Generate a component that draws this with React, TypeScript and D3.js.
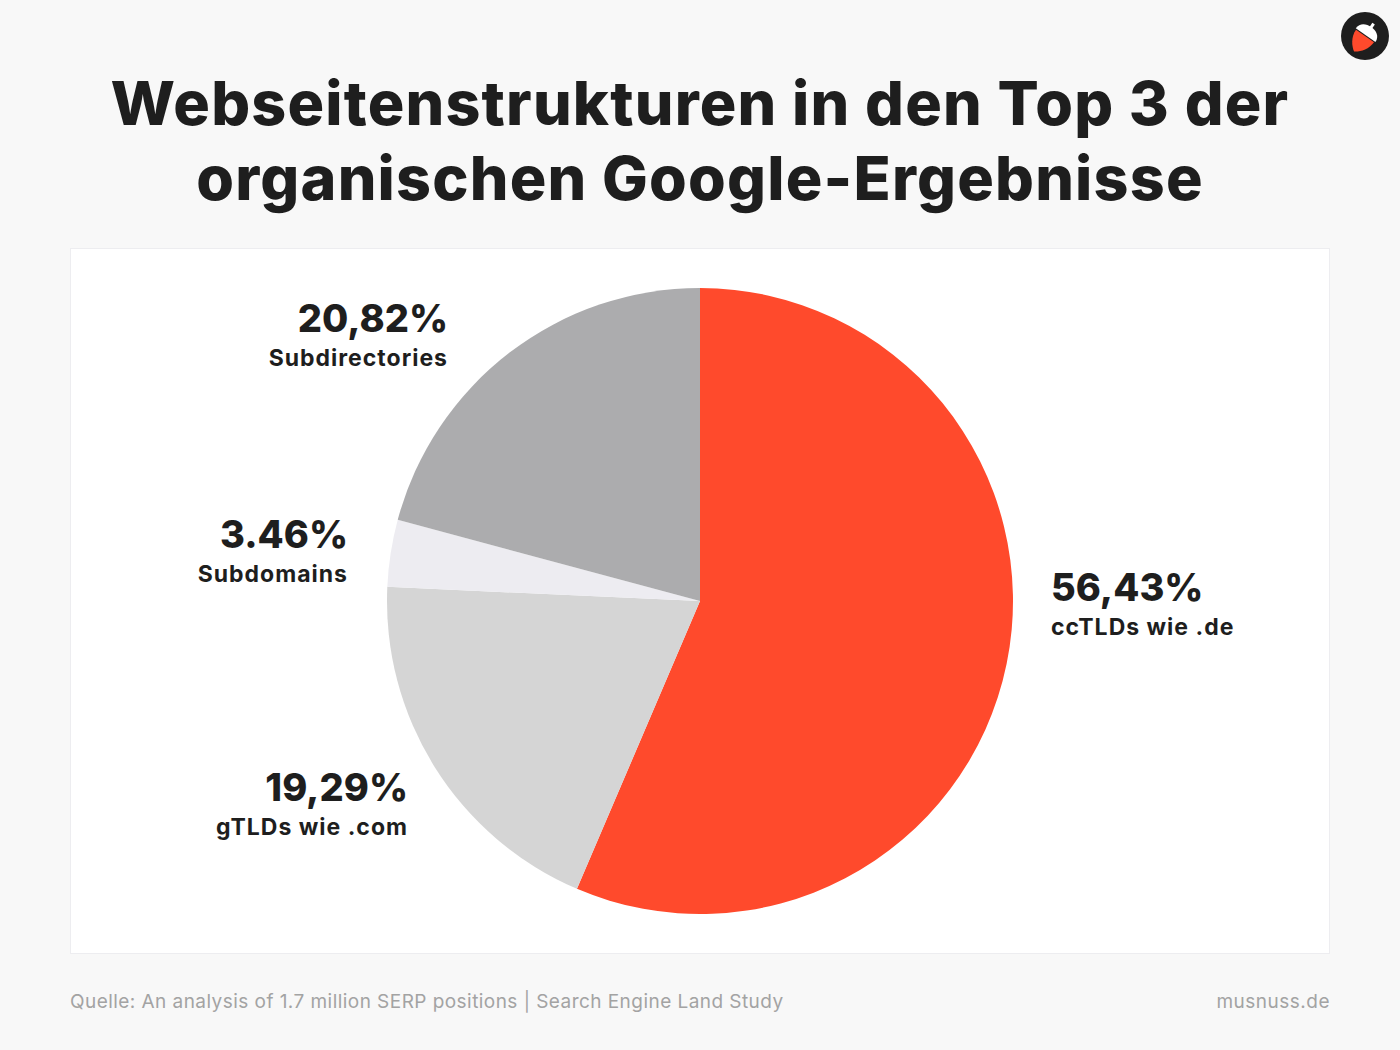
import React from "react";
import * as d3 from "d3";

const categories = ["ccTLDs wie .de", "gTLDs wie .com", "Subdomains", "Subdirectories"];
const values = [56.43, 19.29, 3.46, 20.82];
const valueLabels = ["56,43%", "19,29%", "3.46%", "20,82%"];
const colors = ["#FF4A2C", "#D5D5D5", "#EDECF1", "#ACACAE"];

const titleLines = ["Webseitenstrukturen in den Top 3 der", "organischen Google-Ergebnisse"];
const source = "Quelle: An analysis of 1.7 million SERP positions | Search Engine Land Study";
const brand = "musnuss.de";

const W = 1400;
const H = 1050;
const FONT = "Inter, 'Noto Sans', sans-serif";

// label anchors (x, baseline of value) and text alignment, by category index
const labelLayout = [
  { x: 1051, y: 601, anchor: "start" },
  { x: 408, y: 801, anchor: "end" },
  { x: 348, y: 548, anchor: "end" },
  { x: 448, y: 332, anchor: "end" },
];

export default function App() {
  const cx = 700;
  const cy = 601;
  const r = 313;

  const pie = d3
    .pie<number>()
    .value((d) => d)
    .sort(null)
    .startAngle(0)
    .endAngle(2 * Math.PI);
  const arcs = pie(values);
  const arc = d3.arc<d3.PieArcDatum<number>>().innerRadius(0).outerRadius(r);

  return (
    <svg width={W} height={H} style={{ display: "block", position: "absolute", left: 0, top: 0 }}>
      <rect x={0} y={0} width={W} height={H} fill="#F8F8F8" />

      {titleLines.map((t, i) => (
        <text
          key={i}
          x={W / 2}
          y={125 + i * 75}
          textAnchor="middle"
          fontFamily={FONT}
          fontWeight={800}
          fontSize={61}
          fill="#1E1E1E"
          letterSpacing={1.2}
        >
          {t}
        </text>
      ))}

      {/* logo */}
      <g transform="translate(1365,36)">
        <circle r={24} fill="#1E1E1E" />
        <g transform="rotate(35)">
          <path d="M-11,0 L11,0 C11,9 5,16 0,19 C-5,16 -11,9 -11,0 Z" fill="#FF4A2C" />
          <path d="M-12,-1 C-12,-8 -6,-11 0,-11 C6,-11 12,-8 12,-1 Z" fill="#FFFFFF" />
          <rect x={-1.5} y={-15} width={3} height={5} fill="#FFFFFF" />
        </g>
      </g>

      <rect x={70.5} y={248.5} width={1259} height={705} fill="#FFFFFF" stroke="#EDEDF0" strokeWidth={1} />

      <g transform={`translate(${cx},${cy})`}>
        {arcs.map((a, i) => (
          <path key={categories[i]} d={arc(a) || ""} fill={colors[i]} />
        ))}
      </g>

      {labelLayout.map((l, i) => (
        <g key={i}>
          <text x={l.x} y={l.y} textAnchor={l.anchor} fontFamily={FONT} fontWeight={800} fontSize={38} fill="#1E1E1E">
            {valueLabels[i]}
          </text>
          <text
            x={l.x}
            y={l.y + 34}
            textAnchor={l.anchor}
            fontFamily={FONT}
            fontWeight={700}
            fontSize={23}
            letterSpacing={1}
            fill="#1E1E1E"
          >
            {categories[i]}
          </text>
        </g>
      ))}

      <text x={70} y={1008} fontFamily={FONT} fontSize={19} letterSpacing={0.45} fill="#A3A3A3">
        {source}
      </text>
      <text x={1330} y={1008} textAnchor="end" fontFamily={FONT} fontSize={19} letterSpacing={0.5} fill="#A3A3A3">
        {brand}
      </text>
    </svg>
  );
}
